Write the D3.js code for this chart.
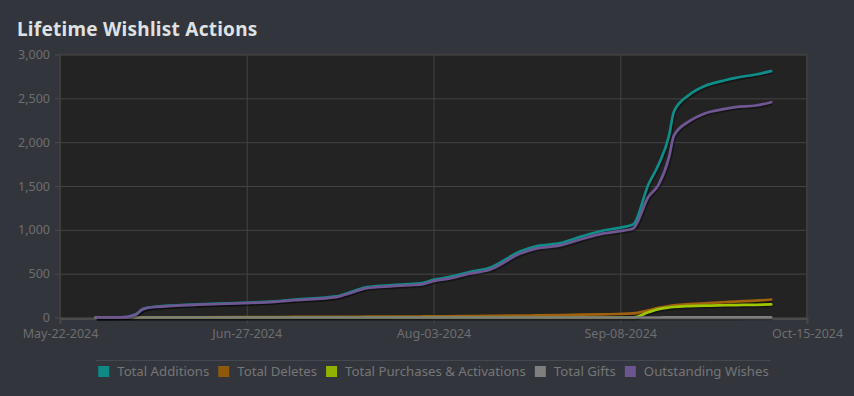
<!DOCTYPE html>
<html>
<head>
<meta charset="utf-8">
<script src="https://cdn.jsdelivr.net/npm/d3@7/dist/d3.min.js"></script>
<style>
body { margin: 0; background: #32353c; overflow: hidden; }
svg { display: block; font-family: "Noto Sans", sans-serif; }
.title { fill: #dfe1e3; font-size: 19px; font-weight: bold; letter-spacing: 0.25px; }
.axis text { fill: #6e6e6e; font-size: 12.5px; }
.legend text { fill: #767676; font-size: 13.2px; }
</style>
</head>
<body>
<script>
//Dates of the data points
const dates = ['2024-05-29','2024-06-04','2024-06-05','2024-06-06','2024-06-07','2024-06-08','2024-06-10','2024-06-13',
    '2024-06-18','2024-06-27','2024-07-03','2024-07-07','2024-07-15','2024-07-18','2024-07-21','2024-07-26',
    '2024-07-30','2024-08-01','2024-08-03','2024-08-06','2024-08-10','2024-08-14','2024-08-20','2024-08-23',
    '2024-08-28','2024-09-01','2024-09-05','2024-09-08','2024-09-11','2024-09-14','2024-09-16','2024-09-18',
    '2024-09-19','2024-09-22','2024-09-25','2024-09-29','2024-10-01','2024-10-05','2024-10-08'];

//Series values
const totalAdditions = [0,5,20,40,90,110,125,137,150,168,185,205,240,293,346,369,384,395,430,460,519,567,756,812,
    851,925,990,1020,1060,1517,1745,2068,2350,2540,2640,2707,2734,2772,2810];
const totalDeletes = [0,0,1,1,2,2,2,3,3,4,5,6,7,8,9,10,11,12,13,14,16,18,22,24,27,32,36,40,46,82,110,130,138,
    152,162,175,182,192,205];
const totalPurchases = [0,0,0,0,0,0,0,0,0,0,0,0,0,0,0,0,0,0,0,0,0,0,0,0,0,0,0,0,0,60,96,114,120,130,136,140,
    142,145,150];
const totalGifts = [0,0,0,0,0,0,0,0,0,0,0,0,0,0,0,0,0,0,0,0,0,0,0,0,0,0,0,0,0,0,0,1,1,1,1,1,1,2,2];
const outstandingWishes = [0,5,20,40,88,108,122,133,146,163,179,198,232,283,335,357,371,381,415,443,500,545,730,
    785,825,895,957,982,1015,1377,1517,1821,2076,2239,2327,2380,2399,2418,2456];

//Series names and colours
const seriesNames = ['Total Additions','Total Deletes','Total Purchases & Activations','Total Gifts','Outstanding Wishes'];
const lineColours = ['#0f8d89','#a0620c','#9fc800','#7d7d7d','#6e5793'];
const legendColours = ['#0e8984','#8e5909','#8fb300','#7f7f7f','#6b5690'];

//Axis ticks
const yTicks = [0,500,1000,1500,2000,2500,3000];
const xStart = '2024-05-22';
const xEnd = '2024-10-15';

const width = 854;
const height = 396;
const plot = {left: 60, right: 807, top: 54.5, bottom: 317.5};

const parse = d3.utcParse('%Y-%m-%d');
const series = [totalAdditions, totalDeletes, totalPurchases, totalGifts, outstandingWishes]
    .map((vals, i) => ({
        name: seriesNames[i],
        colour: lineColours[i],
        values: vals.map((v, j) => ({date: parse(dates[j]), value: v}))
    }));

const svg = d3.select('body').append('svg')
    .attr('width', width)
    .attr('height', height);

svg.append('text')
    .attr('class', 'title')
    .attr('x', 17)
    .attr('y', 36)
    .text('Lifetime Wishlist Actions');

//Scales
const x = d3.scaleUtc()
    .domain([parse(xStart), parse(xEnd)])
    .range([plot.left, plot.right]);

const y = d3.scaleLinear()
    .domain([0, 3000])
    .range([plot.bottom, plot.top]);

//Tick positions spread evenly over the domain
const t0 = parse(xStart).getTime(), t1 = parse(xEnd).getTime();
const xTicks = d3.range(5).map(k => new Date(t0 + k * (t1 - t0) / 4));

//Plot background
svg.append('rect')
    .attr('x', plot.left)
    .attr('y', plot.top)
    .attr('width', plot.right - plot.left)
    .attr('height', plot.bottom - plot.top)
    .style('fill', '#232323');

//Grid
svg.append('g')
    .attr('class', 'grid')
    .attr('transform', `translate(${plot.left},0)`)
    .call(d3.axisLeft(y).tickValues(yTicks).tickSize(-(plot.right - plot.left)).tickFormat(''))
    .call(g => g.select('.domain').remove())
    .selectAll('line').style('stroke', '#434343');

svg.append('g')
    .attr('class', 'grid')
    .attr('transform', `translate(0,${plot.top})`)
    .call(d3.axisBottom(x).tickValues(xTicks.slice(1, 4)).tickSize(plot.bottom - plot.top).tickFormat(''))
    .call(g => g.select('.domain').remove())
    .selectAll('line').style('stroke', '#434343');

//Plot frame
svg.append('rect')
    .attr('x', plot.left)
    .attr('y', plot.top)
    .attr('width', plot.right - plot.left)
    .attr('height', plot.bottom - plot.top + 1)
    .style('fill', 'none')
    .style('stroke', '#3d3d3d')
    .style('stroke-width', 2);

//Axes
const yAxis = svg.append('g')
    .attr('class', 'axis')
    .attr('transform', `translate(${plot.left},0)`)
    .call(d3.axisLeft(y).tickValues(yTicks).tickSize(5).tickPadding(5).tickFormat(d3.format(',')));
yAxis.select('.domain').remove();
yAxis.selectAll('line').style('stroke', '#4a4a4a');

const xAxis = svg.append('g')
    .attr('class', 'axis')
    .attr('transform', `translate(0,${plot.bottom + 1})`)
    .call(d3.axisBottom(x).tickValues(xTicks).tickSize(5).tickPadding(6).tickFormat(d3.utcFormat('%b-%d-%Y')));
xAxis.select('.domain').style('stroke', '#4a4a4a').style('stroke-width', 2);
xAxis.selectAll('line').style('stroke', '#4a4a4a');
svg.selectAll('.axis text').style('font-family', '"Noto Sans", sans-serif');

//Lines
const line = d3.line()
    .x(d => x(d.date))
    .y(d => y(d.value))
    .curve(d3.curveMonotoneX);

const lines = svg.append('g');

series.forEach(s => {
    lines.append('path')
        .datum(s.values)
        .attr('d', line)
        .attr('transform', 'translate(1,1)')
        .style('fill', 'none')
        .style('stroke', '#000')
        .style('stroke-opacity', 0.35)
        .style('stroke-width', 4)
        .style('stroke-linejoin', 'round');
    lines.append('path')
        .datum(s.values)
        .attr('d', line)
        .style('fill', 'none')
        .style('stroke', s.colour)
        .style('stroke-width', 2.7)
        .style('stroke-linejoin', 'round')
        .style('stroke-linecap', 'round');
});

//Legend
const legend = svg.append('g').attr('class', 'legend');

legend.append('line')
    .attr('x1', 96)
    .attr('x2', 771)
    .attr('y1', 360.5)
    .attr('y2', 360.5)
    .style('stroke', '#45484f');

const items = legend.selectAll('g.item')
    .data(seriesNames)
    .enter()
    .append('g')
    .attr('class', 'item');

items.append('rect')
    .attr('width', 11)
    .attr('height', 11)
    .attr('y', 366)
    .style('fill', (d, i) => legendColours[i]);

items.append('text')
    .attr('x', 19)
    .attr('y', 376)
    .text(d => d);

//Flow legend items from the left, centered under the plot
let widths = [];
items.selectAll('text').each(function() { widths.push(this.getComputedTextLength() + 19); });
const gap = 9;
const total = d3.sum(widths) + gap * (widths.length - 1);
let cursor = (plot.left + plot.right) / 2 - total / 2;
items.attr('transform', (d, i) => {
    const tx = cursor;
    cursor += widths[i] + gap;
    return `translate(${tx},0)`;
});
</script>
</body>
</html>
